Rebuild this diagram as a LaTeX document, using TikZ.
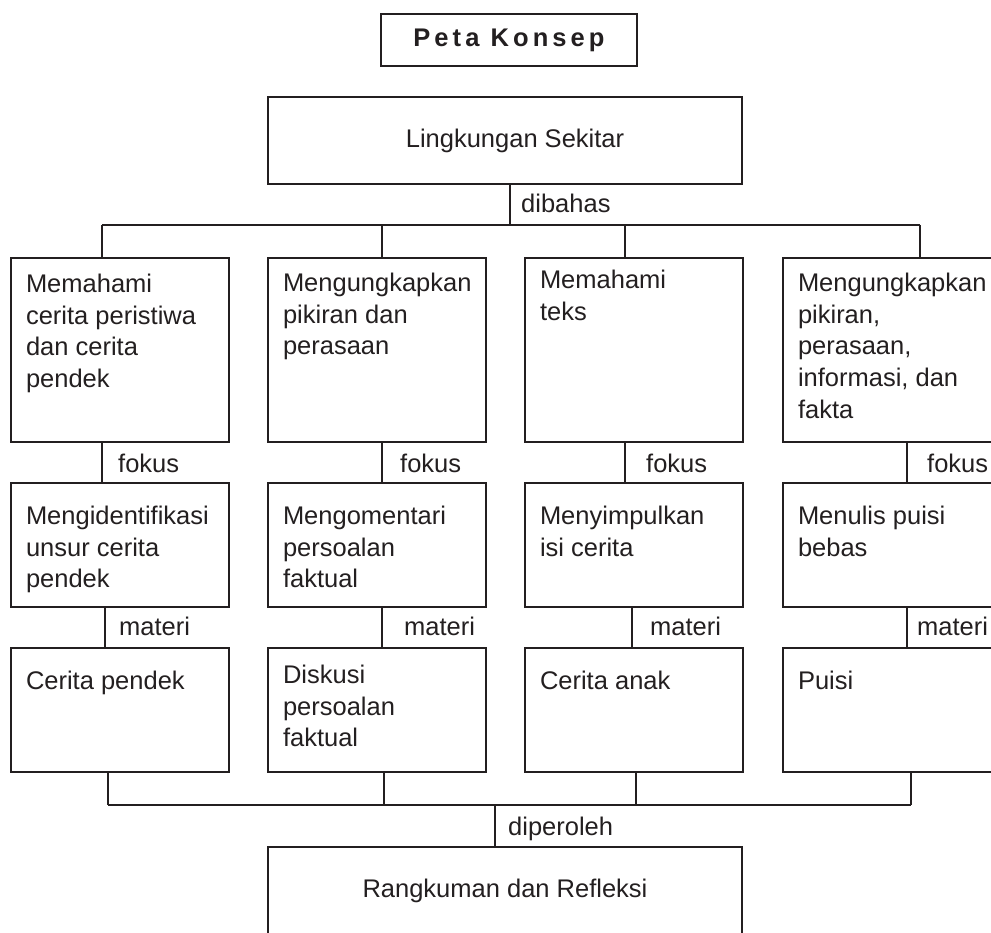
\documentclass[tikz,border=0pt]{standalone}
\usepackage{fontspec}
\setmainfont{Liberation Sans}
\usepackage{tikz}
\definecolor{tinta}{HTML}{231F20}
\newcommand{\isi}[3]{\parbox[c][#1pt][t]{188pt}{\raggedright\vspace*{#2pt}#3}}

\begin{document}
\begin{tikzpicture}[x=1pt,y=-1pt,
  font=\fontsize{25.5pt}{31.7pt}\selectfont,
  kotak/.style={draw=tinta,line width=1.6pt,text=tinta,anchor=north west,inner sep=0pt,outer sep=0pt},
  isikotak/.style={kotak,inner xsep=15pt},
  garis/.style={draw=tinta,line width=1.4pt},
  ket/.style={text=tinta,anchor=base west,inner sep=0pt}]
\useasboundingbox (0,0) rectangle (991,933);
\clip (0,0) rectangle (991,933);

% judul dan pokok bahasan
\node[kotak,minimum width=256pt,minimum height=52pt,
  font=\fontsize{25.5pt}{31.7pt}\selectfont\bfseries\addfontfeature{LetterSpace=16}] (judul) at (381,14) {Peta Konsep};
\node[kotak,minimum width=474pt,minimum height=87pt] (lingkungan) at (268,97) {\hspace*{20pt}Lingkungan Sekitar};

% baris pertama
\node[isikotak] (m1) at (11,258) {\isi{184}{16}{Memahami\\cerita peristiwa\\dan cerita\\pendek}};
\node[isikotak] (m2) at (268,258) {\isi{184}{15}{Mengungkapkan\\pikiran dan\\perasaan}};
\node[isikotak] (m3) at (525,258) {\isi{184}{12}{Memahami\\teks}};
\node[isikotak] (m4) at (783,258) {\isi{184}{15}{Mengungkapkan\\pikiran,\\perasaan,\\informasi, dan\\fakta}};

% baris kedua
\node[isikotak] (f1) at (11,483) {\isi{124}{23}{Mengidentifikasi\\unsur cerita\\pendek}};
\node[isikotak] (f2) at (268,483) {\isi{124}{23}{Mengomentari\\persoalan\\faktual}};
\node[isikotak] (f3) at (525,483) {\isi{124}{23}{Menyimpulkan\\isi cerita}};
\node[isikotak] (f4) at (783,483) {\isi{124}{23}{Menulis puisi\\bebas}};

% baris ketiga
\node[isikotak] (t1) at (11,648) {\isi{124}{23}{Cerita pendek}};
\node[isikotak] (t2) at (268,648) {\isi{124}{17}{Diskusi\\persoalan\\faktual}};
\node[isikotak] (t3) at (525,648) {\isi{124}{23}{Cerita anak}};
\node[isikotak] (t4) at (783,648) {\isi{124}{23}{Puisi}};

\node[kotak,minimum width=474pt,minimum height=87pt] (rangkuman) at (268,847) {Rangkuman dan Refleksi};

% cabang atas
\coordinate (bahas) at (510,225);
\coordinate (cab1) at (102,225);
\coordinate (cab2) at (382,225);
\coordinate (cab3) at (625,225);
\coordinate (cab4) at (920,225);
\draw[garis] (lingkungan.south -| bahas) -- (bahas);
\draw[garis] (cab1) -- (cab4);
\foreach \i in {1,...,4}
  \draw[garis] (cab\i) -- (cab\i |- m\i.north);
\node[ket] (dibahas) at (521,213) {dibahas};

% fokus dan materi
\foreach \i/\x in {1/102,2/382,3/625,4/907}
  \draw[garis] (m\i.south -| \x,0) -- (f\i.north -| \x,0);
\foreach \i/\x in {1/105,2/382,3/632,4/907}
  \draw[garis] (f\i.south -| \x,0) -- (t\i.north -| \x,0);
\node[ket] (fokus1) at (118,472) {fokus};
\node[ket] (fokus2) at (400,472) {fokus};
\node[ket] (fokus3) at (646,472) {fokus};
\node[ket] (fokus4) at (927,472) {fokus};
\node[ket] (materi1) at (119,635) {materi};
\node[ket] (materi2) at (404,635) {materi};
\node[ket] (materi3) at (650,635) {materi};
\node[ket] (materi4) at (917,635) {materi};

% cabang bawah
\coordinate (ambil1) at (108,805);
\coordinate (ambil2) at (384,805);
\coordinate (ambil3) at (636,805);
\coordinate (ambil4) at (911,805);
\coordinate (oleh) at (495,805);
\foreach \i in {1,...,4}
  \draw[garis] (t\i.south -| ambil\i) -- (ambil\i);
\draw[garis] (ambil1) -- (ambil4);
\draw[garis] (oleh) -- (oleh |- rangkuman.north);
\node[ket] (diperoleh) at (508,835) {diperoleh};
\end{tikzpicture}
\end{document}
